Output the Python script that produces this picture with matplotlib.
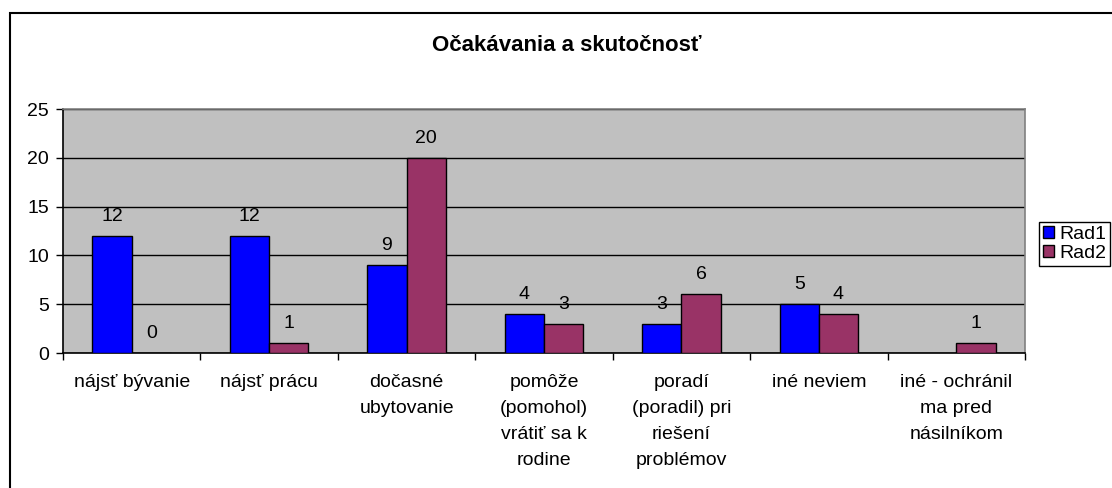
import numpy as np
import matplotlib.pyplot as plt
from matplotlib.patches import Rectangle, Patch

plt.rcParams['font.family'] = ['Liberation Sans', 'DejaVu Sans']

# --- DATA ---
categories = [
    "nájsť bývanie",
    "nájsť prácu",
    "dočasné\nubytovanie",
    "pomôže\n(pomohol)\nvrátiť sa k\nrodine",
    "poradí\n(poradil) pri\nriešení\nproblémov",
    "iné neviem",
    "iné - ochránil\nma pred\nnásilníkom",
]
rad1 = [12, 12, 9, 4, 3, 5, np.nan]
rad2 = [0, 1, 20, 3, 6, 4, 1]
series_names = ["Rad1", "Rad2"]
title = "Očakávania a skutočnosť"

# --- STYLE ---
C1 = '#0000FF'
C2 = '#993366'
W, H = 1112, 488
FS = 14

fig = plt.figure(figsize=(W / 100, H / 100), dpi=100, facecolor='white')
ax = fig.add_axes([63 / W, 1 - 353 / H, (1025 - 63) / W, (353 - 109) / H])
ax.set_facecolor('#C0C0C0')

x = np.arange(len(categories))
bw = 1 / 3.5
b1 = ax.bar(x - bw / 2, rad1, bw, color=C1, edgecolor='black', linewidth=1, zorder=3)
b2 = ax.bar(x + bw / 2, rad2, bw, color=C2, edgecolor='black', linewidth=1, zorder=3)
for bars, vals in ((b1, rad1), (b2, rad2)):
    labels = ['' if np.isnan(v) else f'{int(v)}' for v in np.asarray(vals, float)]
    ax.bar_label(bars, labels=labels, padding=8, fontsize=FS)

ax.set_xlim(-0.5, len(categories) - 0.5)
ax.set_ylim(0, 25)
ax.set_yticks(range(0, 26, 5))
ax.tick_params(axis='y', labelsize=FS, length=5, width=1, direction='out', pad=5)

# ticks at category boundaries, labels at centres
ax.set_xticks(np.arange(-0.5, len(categories), 1))
ax.set_xticklabels([])
ax.tick_params(axis='x', which='major', length=5, width=1, direction='out')
ax.set_xticks(x, minor=True)
ax.set_xticklabels(categories, minor=True, fontsize=FS, linespacing=1.7, va='top')
ax.tick_params(axis='x', which='minor', length=0, pad=15)

ax.grid(axis='y', color='black', linewidth=1, zorder=1)
ax.set_axisbelow(True)
ax.spines['left'].set_color('black')
ax.spines['bottom'].set_color('black')
ax.spines['top'].set_color('#808080')
ax.spines['right'].set_color('#808080')
for s in ax.spines.values():
    s.set_linewidth(1.2)

fig.text(567 / W, 1 - 46 / H, title, ha='center', va='center', fontsize=16, fontweight='bold')

handles = [Patch(facecolor=C1, edgecolor='black', linewidth=1),
           Patch(facecolor=C2, edgecolor='black', linewidth=1)]
leg = fig.legend(handles, series_names, loc='upper left', bbox_to_anchor=(1039 / W, 1 - 222 / H),
                 fontsize=FS, frameon=True, fancybox=False, edgecolor='black', framealpha=1,
                 handlelength=0.55, handleheight=0.55, handletextpad=0.3, borderpad=0.2,
                 labelspacing=0.12, borderaxespad=0)
leg.get_frame().set_linewidth(1)

# outer chart border
fig.patches.append(Rectangle((10 / W, -0.1), 1.2, 1.1 - 13 / H, transform=fig.transFigure,
                             fill=False, edgecolor='black', linewidth=1.5))

plt.savefig('out.png', dpi=100)
